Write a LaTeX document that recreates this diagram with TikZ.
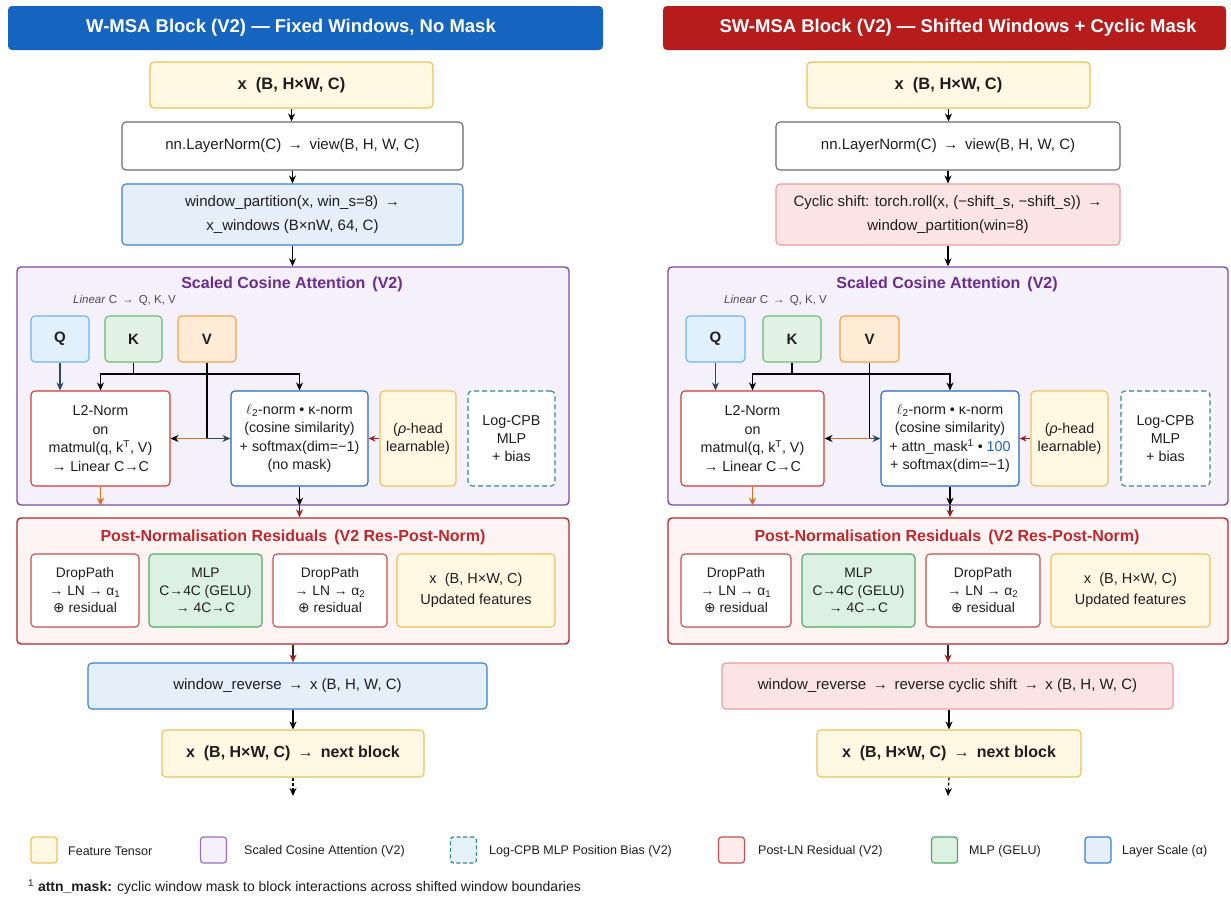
\documentclass[tikz,border=0pt]{standalone}
\usepackage{fontspec}
\setmainfont{Liberation Sans}
\newfontfamily\djv{DejaVu Sans}
\usetikzlibrary{arrows.meta,calc}
\definecolor{hdrblue}{HTML}{1565C0}
\definecolor{hdrred}{HTML}{B71C1C}
\definecolor{yelfill}{HTML}{FFF8E3}
\definecolor{yeldraw}{HTML}{EEC158}
\definecolor{bluefill}{HTML}{E4EFFA}
\definecolor{bluedraw}{HTML}{3E7FCF}
\definecolor{purpfill}{HTML}{F4F1FA}
\definecolor{purpdraw}{HTML}{7E4BA6}
\definecolor{purptext}{HTML}{6A2C91}
\definecolor{qfill}{HTML}{E2F0FC}\definecolor{qdraw}{HTML}{6DB5EE}
\definecolor{kfill}{HTML}{E2F3E5}\definecolor{kdraw}{HTML}{6DB874}
\definecolor{vfill}{HTML}{FFEBD6}\definecolor{vdraw}{HTML}{F2A24E}
\definecolor{l2draw}{HTML}{D03A32}
\definecolor{cosdraw}{HTML}{2268C4}
\definecolor{tealdraw}{HTML}{2F8C7C}
\definecolor{resfill}{HTML}{FFF4F4}
\definecolor{resdraw}{HTML}{B3272B}
\definecolor{restext}{HTML}{C0282E}
\definecolor{dpdraw}{HTML}{C0504F}
\definecolor{mlpfill}{HTML}{DDF1E2}\definecolor{mlpdraw}{HTML}{4DAA62}
\definecolor{pinkfill}{HTML}{FCE4E4}\definecolor{pinkdraw}{HTML}{EE9C9C}
\definecolor{graydraw}{HTML}{6B6B6B}
\definecolor{orangearr}{HTML}{E06A1E}
\definecolor{darkred}{HTML}{A32020}
\definecolor{cosline}{HTML}{2B4A5B}
\definecolor{txt}{HTML}{1E1E1E}
\definecolor{numblue}{HTML}{1E63C4}
\definecolor{legcpb}{HTML}{E6F0F8}
\definecolor{legpurp}{HTML}{9C6FC0}
\newcommand\mybox[7]{\node[#6, minimum width={#4pt-#2pt}, minimum height={#5pt-#3pt}] (#1) at ({(#2+#4)/2},{(#3+#5)/2}) {#7};}
\newcommand\oplusch{{\djv ⊕}}
\tikzset{
  base/.style={rounded corners=4pt, line width=1.1pt, align=center, inner sep=0pt, text=txt, font=\fontsize{14.3}{18.4}\selectfont},
  hdr/.style={base, draw=none},
  hdrtext/.style={inner sep=0pt, text=white, font=\fontsize{18.5}{22}\selectfont\bfseries},
  feat/.style={base, fill=yelfill, draw=yeldraw},
  plainbox/.style={base, fill=white, draw=graydraw},
  bluebox/.style={base, fill=bluefill, draw=bluedraw},
  pinkbox/.style={base, fill=pinkfill, draw=pinkdraw},
  attbox/.style={base, fill=purpfill, draw=purpdraw, line width=1.4pt},
  resbox/.style={base, fill=resfill, draw=resdraw, line width=1.4pt},
  qbox/.style={base, fill=qfill, draw=qdraw, font=\fontsize{15}{17}\selectfont\bfseries},
  kbox/.style={base, fill=kfill, draw=kdraw, font=\fontsize{15}{17}\selectfont\bfseries},
  vbox/.style={base, fill=vfill, draw=vdraw, font=\fontsize{15}{17}\selectfont\bfseries},
  l2box/.style={base, fill=white, draw=l2draw},
  cosbox/.style={base, fill=white, draw=cosdraw},
  rhobox/.style={base, fill=yelfill, draw=yeldraw},
  cpbbox/.style={base, fill=white, draw=tealdraw, dashed, dash pattern=on 5pt off 3pt},
  dpbox/.style={base, fill=white, draw=dpdraw, font=\fontsize{13.8}{17.5}\selectfont},
  mlpbox/.style={base, fill=mlpfill, draw=mlpdraw, font=\fontsize{13.8}{17.5}\selectfont},
  atttitle/.style={text=purptext, font=\fontsize{16}{19}\selectfont\bfseries, inner sep=0pt},
  restitle/.style={text=restext, font=\fontsize{16}{19}\selectfont\bfseries, inner sep=0pt},
  linlabel/.style={text=black!70, font=\fontsize{11.5}{14}\selectfont, inner sep=0pt, anchor=west},
  arr/.style={-{Stealth[length=8pt,width=7pt]}, line width=1.2pt, draw=black},
  redarr/.style={-{Stealth[length=8pt,width=7pt,color=darkred]}, line width=1.2pt, draw=black!85},
  legsq/.style={rounded corners=3pt, line width=1.2pt, minimum width=26pt, minimum height=26pt, inner sep=0pt},
  legtxt/.style={anchor=west, inner sep=0pt, text=txt, font=\fontsize{12.5}{14}\selectfont},
}
\begin{document}
\begin{tikzpicture}[x=1pt,y=-1pt]
\useasboundingbox[fill=white] (0,0) rectangle (1231,905);

% ================= LEFT COLUMN =================
\mybox{hdrL}{8}{6}{603}{50}{hdr, fill=hdrblue}{}
\node[hdrtext] (hdrTL) at (291,28) {W-MSA Block (V2) — Fixed Windows, No Mask};
\mybox{inL}{150}{62}{433}{108}{feat, font=\fontsize{16.5}{19}\selectfont\bfseries}{x \ (B, H×W, C)}
\mybox{lnL}{122}{122}{463}{170}{plainbox, font=\fontsize{15}{18}\selectfont}{nn.LayerNorm(C) \,→\, view(B, H, W, C)}
\mybox{wpL}{122}{184}{463}{245}{bluebox, font=\fontsize{15}{24}\selectfont}{window\_partition(x, win\_s=8) \,→\\x\_windows (B×nW, 64, C)}
\mybox{attL}{17}{267}{569}{505}{attbox}{}
\node[atttitle] (attTL) at (292,284) {Scaled Cosine Attention \,(V2)};
\node[linlabel] (linL) at (73,300) {\textit{Linear} C \,→\, Q, K, V};
\mybox{qL}{31}{316}{89}{362}{qbox}{Q}
\mybox{kL}{105}{316}{162}{362}{kbox}{K}
\mybox{vL}{178}{316}{236}{362}{vbox}{V}
\mybox{l2L}{31}{391}{170}{486}{l2box}{L2-Norm\\on\\matmul(q, k\textsuperscript{T}, V)\\→ Linear C→C}
\mybox{cosL}{231}{391}{368}{486}{cosbox}{$\ell$\textsubscript{2}-norm • κ-norm\\(cosine similarity)\\+ softmax(dim=−1)\\(no mask)}
\mybox{rhoL}{380}{391}{456}{486}{rhobox}{(\textit{ρ}-head\\learnable)}
\mybox{cpbL}{468}{391}{555}{486}{cpbbox}{Log-CPB\\MLP\\+ bias}
\mybox{resL}{17}{518}{569}{644}{resbox}{}
\node[restitle] (resTL) at (293,537) {Post-Normalisation Residuals \,(V2 Res-Post-Norm)};
\mybox{b1L}{31}{554}{139}{627}{dpbox}{DropPath\\→ LN → α\textsubscript{1}\\\oplusch{} residual}
\mybox{b2L}{149}{554}{262}{627}{mlpbox}{MLP\\C→4C (GELU)\\→ 4C→C}
\mybox{b3L}{273}{554}{387}{627}{dpbox}{DropPath\\→ LN → α\textsubscript{2}\\\oplusch{} residual}
\mybox{b4L}{397}{554}{555}{627}{feat, font=\fontsize{14.5}{21}\selectfont}{x \ (B, H×W, C)\\Updated features}
\mybox{wrL}{88}{663}{487}{709}{bluebox, font=\fontsize{15}{18}\selectfont}{window\_reverse \,→\, x (B, H, W, C)}
\mybox{outL}{162}{730}{424}{777}{feat, font=\fontsize{16}{19}\selectfont\bfseries}{x \ (B, H×W, C) \,→\, next block}
\coordinate (yKL) at (0,374);
\coordinate (endL) at (293,796);

\draw[arr] (inL.south) -- (inL.south |- lnL.north);
\draw[arr] (lnL.south) -- (lnL.south |- wpL.north);
\draw[arr] (wpL.south) -- (wpL.south |- attL.north);
\draw[arr, draw=cosline] (qL.south) -- (qL.south |- l2L.north);
\draw[line width=1.2pt] (kL.south) -- (kL.south |- yKL);
\draw[arr] (kL.south |- yKL) -| (l2L.north);
\draw[arr] (kL.south |- yKL) -| (cosL.north);
\draw[line width=1.2pt] (vL.south) -- (vL.south |- l2L.east);
\draw[-{Stealth[length=8pt,width=7pt,color=black]}, line width=1.2pt, draw=orangearr] (vL.south |- l2L.east) -- (l2L.east);
\draw[arr, draw=cosline] (vL.south |- cosL.west) -- (cosL.west);
\draw[-{Stealth[length=7pt,width=6pt]}, line width=1.2pt, draw=darkred] (rhoL.west) -- (cosL.east);
\draw[arr, draw=orangearr] (l2L.south) -- (l2L.south |- attL.south);
\draw[arr] (cosL.south) -- (cosL.south |- attL.south);
\draw[redarr] (cosL.south |- attL.south) -- (cosL.south |- resL.north);
\draw[redarr] (resL.south) -- (resL.south |- wrL.north);
\draw[arr] (outL.north |- wrL.south) -- (outL.north);
\draw[arr, dashed, dash pattern=on 3pt off 2pt] (outL.south) -- (endL);

% ================= RIGHT COLUMN =================
\mybox{hdrR}{663}{6}{1226}{50}{hdr, fill=hdrred}{}
\node[hdrtext] (hdrTR) at (958,28) {SW-MSA Block (V2) — Shifted Windows + Cyclic Mask};
\mybox{inR}{807}{62}{1090}{108}{feat, font=\fontsize{16.5}{19}\selectfont\bfseries}{x \ (B, H×W, C)}
\mybox{lnR}{776}{122}{1120}{170}{plainbox, font=\fontsize{15}{18}\selectfont}{nn.LayerNorm(C) \,→\, view(B, H, W, C)}
\mybox{wpR}{776}{184}{1120}{245}{pinkbox, font=\fontsize{15}{24}\selectfont}{Cyclic shift: torch.roll(x, (−shift\_s, −shift\_s)) \,→\\window\_partition(win=8)}
\mybox{attR}{668}{267}{1228}{505}{attbox}{}
\node[atttitle] (attTR) at (947,284) {Scaled Cosine Attention \,(V2)};
\node[linlabel] (linR) at (724,300) {\textit{Linear} C \,→\, Q, K, V};
\mybox{qR}{686}{316}{745}{362}{qbox}{Q}
\mybox{kR}{763}{316}{821}{362}{kbox}{K}
\mybox{vR}{840}{316}{899}{362}{vbox}{V}
\mybox{l2R}{681}{391}{824}{486}{l2box}{L2-Norm\\on\\matmul(q, k\textsuperscript{T}, V)\\→ Linear C→C}
\mybox{cosR}{881}{391}{1019}{486}{cosbox}{$\ell$\textsubscript{2}-norm • κ-norm\\(cosine similarity)\\+ attn\_mask\textsuperscript{1} • \textcolor{numblue}{100}\\+ softmax(dim=−1)}
\mybox{rhoR}{1031}{391}{1108}{486}{rhobox}{(\textit{ρ}-head\\learnable)}
\mybox{cpbR}{1121}{391}{1210}{486}{cpbbox}{Log-CPB\\MLP\\+ bias}
\mybox{resR}{668}{518}{1228}{644}{resbox}{}
\node[restitle] (resTR) at (947,537) {Post-Normalisation Residuals \,(V2 Res-Post-Norm)};
\mybox{b1R}{681}{554}{791}{627}{dpbox}{DropPath\\→ LN → α\textsubscript{1}\\\oplusch{} residual}
\mybox{b2R}{802}{554}{915}{627}{mlpbox}{MLP\\C→4C (GELU)\\→ 4C→C}
\mybox{b3R}{926}{554}{1040}{627}{dpbox}{DropPath\\→ LN → α\textsubscript{2}\\\oplusch{} residual}
\mybox{b4R}{1051}{554}{1210}{627}{feat, font=\fontsize{14.5}{21}\selectfont}{x \ (B, H×W, C)\\Updated features}
\mybox{wrR}{722}{663}{1173}{709}{pinkbox, font=\fontsize{15}{18}\selectfont}{window\_reverse \,→\, reverse cyclic shift \,→\, x (B, H, W, C)}
\mybox{outR}{817}{730}{1081}{777}{feat, font=\fontsize{16}{19}\selectfont\bfseries}{x \ (B, H×W, C) \,→\, next block}
\coordinate (yKR) at (0,374);
\coordinate (endR) at (948,796);

\draw[arr] (inR.south) -- (inR.south |- lnR.north);
\draw[arr] (lnR.south) -- (lnR.south |- wpR.north);
\draw[arr] (wpR.south) -- (wpR.south |- attR.north);
\draw[arr, draw=cosline] (qR.south) -- (qR.south |- l2R.north);
\draw[line width=1.2pt] (kR.south) -- (kR.south |- yKR);
\draw[arr] (kR.south |- yKR) -| (l2R.north);
\draw[arr] (kR.south |- yKR) -| (cosR.north);
\draw[line width=1.2pt] (vR.south) -- (vR.south |- l2R.east);
\draw[-{Stealth[length=8pt,width=7pt,color=black]}, line width=1.2pt, draw=orangearr] (vR.south |- l2R.east) -- (l2R.east);
\draw[arr, draw=cosline] (vR.south |- cosR.west) -- (cosR.west);
\draw[-{Stealth[length=7pt,width=6pt]}, line width=1.2pt, draw=darkred] (rhoR.west) -- (cosR.east);
\draw[arr, draw=orangearr] (l2R.south) -- (l2R.south |- attR.south);
\draw[arr] (cosR.south) -- (cosR.south |- attR.south);
\draw[redarr] (cosR.south |- attR.south) -- (cosR.south |- resR.north);
\draw[redarr] (resR.south) -- (resR.south |- wrR.north);
\draw[arr] (outR.north |- wrR.south) -- (outR.north);
\draw[arr, dashed, dash pattern=on 3pt off 2pt] (outR.south) -- (endR);

% ================= LEGEND =================
\node[legsq, fill=yelfill, draw=yeldraw] (lg1) at (44,850) {};
\node[legtxt] (lt1) at (68,851) {Feature Tensor};
\node[legsq, fill=purpfill, draw=legpurp] (lg2) at (213.5,850) {};
\node[legtxt] (lt2) at (244,851) {Scaled Cosine Attention (V2)};
\node[legsq, fill=legcpb, draw=tealdraw, dashed, dash pattern=on 4pt off 2.5pt] (lg3) at (463.5,850) {};
\node[legtxt] (lt3) at (489,851) {Log-CPB MLP Position Bias (V2)};
\node[legsq, fill=pinkfill!70, draw=dpdraw] (lg4) at (731.5,850) {};
\node[legtxt] (lt4) at (758,851) {Post-LN Residual (V2)};
\node[legsq, fill=mlpfill, draw=mlpdraw] (lg5) at (944.5,850) {};
\node[legtxt] (lt5) at (969,851) {MLP (GELU)};
\node[legsq, fill=bluefill, draw=bluedraw] (lg6) at (1098,850) {};
\node[legtxt] (lt6) at (1122,851) {Layer Scale (α)};

\node[legtxt, font=\fontsize{14}{16}\selectfont] (foot) at (28,887) {\textsuperscript{1} \textbf{attn\_mask:} cyclic window mask to block interactions across shifted window boundaries};
\end{tikzpicture}
\end{document}
